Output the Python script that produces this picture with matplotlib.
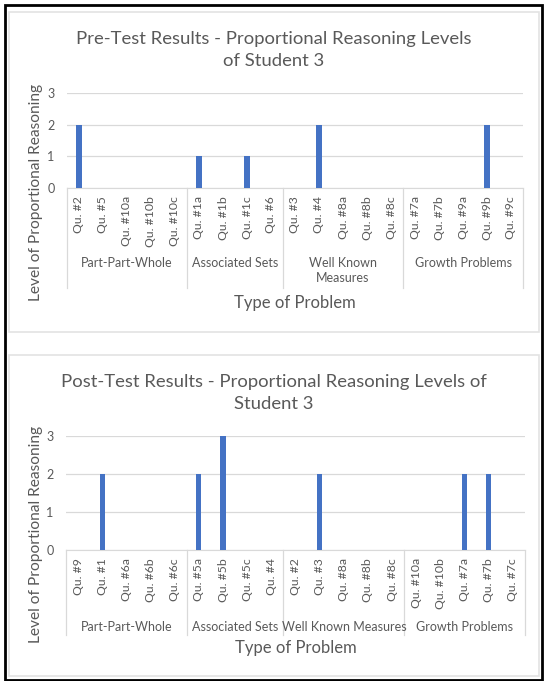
import matplotlib
matplotlib.use('Agg')
import matplotlib.pyplot as plt
from matplotlib.patches import Rectangle
from matplotlib.transforms import blended_transform_factory

plt.rcParams['font.family'] = ['Lato', 'DejaVu Sans']

# ---- data ----
groups = ['Part-Part-Whole', 'Associated Sets', 'Well Known Measures', 'Growth Problems']
group_sizes = [5, 4, 5, 5]

pre_labels = ['Qu. #2', 'Qu. #5', 'Qu. #10a', 'Qu. #10b', 'Qu. #10c',
              'Qu. #1a', 'Qu. #1b', 'Qu. #1c', 'Qu. #6',
              'Qu. #3', 'Qu. #4', 'Qu. #8a', 'Qu. #8b', 'Qu. #8c',
              'Qu. #7a', 'Qu. #7b', 'Qu. #9a', 'Qu. #9b', 'Qu. #9c']
pre_values = [2, 0, 0, 0, 0,
              1, 0, 1, 0,
              0, 2, 0, 0, 0,
              0, 0, 0, 2, 0]

post_labels = ['Qu. #9', 'Qu. #1', 'Qu. #6a', 'Qu. #6b', 'Qu. #6c',
               'Qu. #5a', 'Qu. #5b', 'Qu. #5c', 'Qu. #4',
               'Qu. #2', 'Qu. #3', 'Qu. #8a', 'Qu. #8b', 'Qu. #8c',
               'Qu. #10a', 'Qu. #10b', 'Qu. #7a', 'Qu. #7b', 'Qu. #7c']
post_values = [0, 2, 0, 0, 0,
               2, 3, 0, 0,
               0, 2, 0, 0, 0,
               0, 0, 2, 2, 0]

W, H = 545, 681
BAR = '#4472C4'
GRID = '#d9d9d9'
TXT = '#595959'

fig = plt.figure(figsize=(W / 100, H / 100), dpi=100)


def fy(py):
    # pixel row from top -> figure fraction
    return (H - py) / H


def fx(px):
    return px / W


# outer black frame and the two light panels
fig.patches.append(Rectangle((fx(5), fy(680)), fx(537), (675) / H, fill=False,
                             edgecolor='black', linewidth=2, transform=fig.transFigure))
fig.patches.append(Rectangle((fx(9), fy(332)), fx(530), 320 / H, fill=False,
                             edgecolor='#e3e3e3', linewidth=1.2, transform=fig.transFigure))
fig.patches.append(Rectangle((fx(9), fy(676)), fx(530), 321 / H, fill=False,
                             edgecolor='#e3e3e3', linewidth=1.2, transform=fig.transFigure))


def draw_panel(box, title, title_y, labels, values, group_names, sep_bottom, group_y, group_va,
               xlabel_y, ylabel_y):
    left, top, right, bottom = box
    ax = fig.add_axes([fx(left), fy(bottom), fx(right - left), (bottom - top) / H])
    x = list(range(len(labels)))
    ax.bar(x, values, width=0.21, color=BAR, zorder=3)
    ax.set_xlim(-0.5, len(labels) - 0.5)
    ax.set_ylim(0, 3)
    ax.set_yticks([0, 1, 2, 3])
    ax.yaxis.grid(True, color=GRID, linewidth=0.9)
    ax.set_axisbelow(True)
    for s in ['top', 'right', 'left']:
        ax.spines[s].set_visible(False)
    ax.spines['bottom'].set_color(GRID)
    ax.set_xticks(x)
    ax.set_xticklabels(labels, rotation=90, fontsize=8.8, color=TXT, va='top')
    ax.tick_params(axis='x', length=0, pad=6)
    ax.tick_params(axis='y', length=0, pad=9, labelsize=9, labelcolor=TXT)

    trans = blended_transform_factory(ax.transData, fig.transFigure)
    edges = [-0.5]
    for n in group_sizes:
        edges.append(edges[-1] + n)
    for e in edges:
        ax.plot([e, e], [fy(bottom), fy(sep_bottom)], color=GRID, linewidth=0.9,
                transform=trans, clip_on=False)
    for i, name in enumerate(group_names):
        cx = (edges[i] + edges[i + 1]) / 2
        ax.text(cx, fy(group_y), name, transform=trans, ha='center', va=group_va,
                fontsize=9, color=TXT, linespacing=1.3)

    fig.text(fx(36), fy(ylabel_y), 'Level of Proportional Reasoning', rotation=90,
             ha='center', va='center', fontsize=11.2, color=TXT)
    fig.text(fx((left + right) / 2), fy(xlabel_y), 'Type of Problem', ha='center', va='center',
             fontsize=12, color=TXT)
    fig.text(fx(274), fy(title_y), title, ha='center', va='center', fontsize=13.3,
             color=TXT, linespacing=1.5)
    return ax


draw_panel((67, 93, 523, 188),
           'Pre-Test Results - Proportional Reasoning Levels\nof Student 3', 50,
           pre_labels, pre_values,
           ['Part-Part-Whole', 'Associated Sets', 'Well Known\nMeasures', 'Growth Problems'],
           288, 257, 'top', 303, 192)

draw_panel((66, 436, 525, 550),
           'Post-Test Results - Proportional Reasoning Levels of\nStudent 3', 393,
           post_labels, post_values, groups,
           635, 627, 'center', 648, 534)

fig.savefig('out.png', dpi=100)
